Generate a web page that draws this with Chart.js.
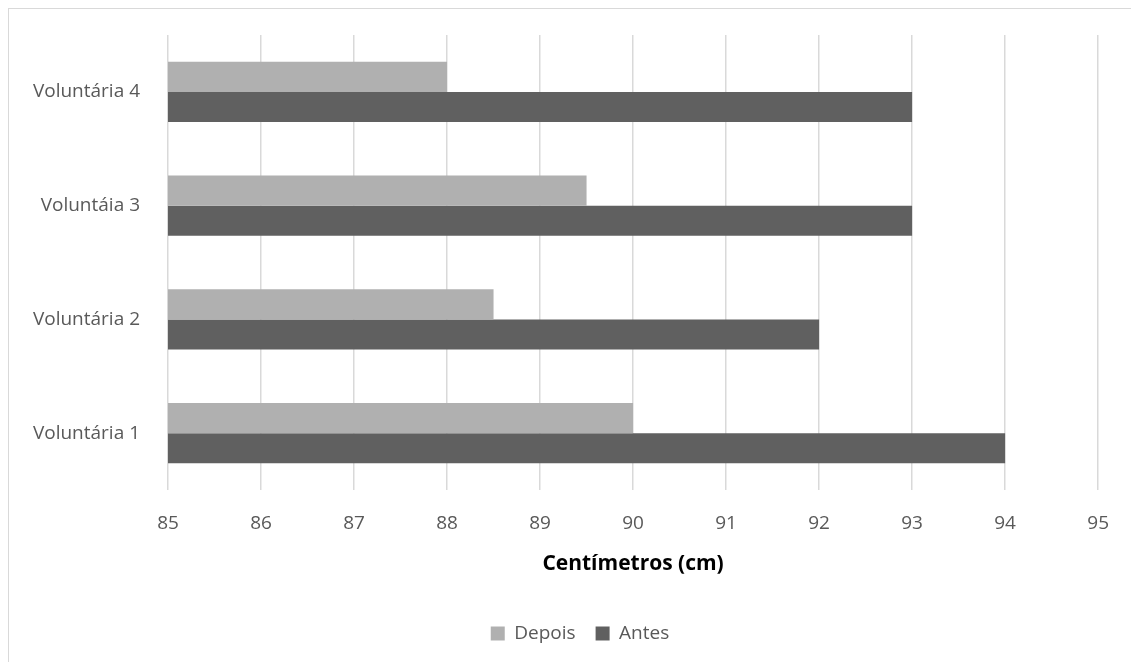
<!DOCTYPE html>
<html>
<head>
<meta charset="utf-8">
<script src="https://cdn.jsdelivr.net/npm/chart.js@4/dist/chart.umd.min.js"></script>
<style>
  html, body { margin: 0; padding: 0; background: #fff; }
  #wrap { position: relative; width: 1131px; height: 662px; overflow: hidden; }
  #frame { position: absolute; left: 8px; top: 8px; width: 1140px; height: 670px; border: 1px solid #d9d9d9; }
  #bar { position: absolute; left: 0; top: 0; }
</style>
</head>
<body>
<div id="wrap">
  <div id="frame"></div>
  <canvas id="bar" width="1131" height="662"></canvas>
</div>
<script>
const categories = ["Voluntária 4", "Voluntáia 3", "Voluntária 2", "Voluntária 1"];
const depois = [88, 89.5, 88.5, 90];
const antes = [93, 93, 92, 94];
const xTicks = [85, 86, 87, 88, 89, 90, 91, 92, 93, 94, 95];

chart();

function chart() {
  const ctx = document.getElementById("bar").getContext("2d");
  const font = "'Open Sans', 'Liberation Sans', sans-serif";
  // nudge the legend a bit to the right, like the original
  const shiftLegend = {
    id: "shiftLegend",
    afterLayout: c => { c.legend.left += 24; c.legend.right += 24; }
  };
  const myChart = new Chart(ctx, {
    type: "bar",
    data: {
      labels: categories,
      datasets: [
        {
          label: "Depois",
          data: depois,
          backgroundColor: "#b0b0b0",
          categoryPercentage: 0.53,
          barPercentage: 1
        },
        {
          label: "Antes",
          data: antes,
          backgroundColor: "#606060",
          categoryPercentage: 0.53,
          barPercentage: 1
        }
      ]
    },
    plugins: [shiftLegend],
    options: {
      indexAxis: "y",
      responsive: false,
      animation: false,
      layout: { padding: { left: 10, right: 29, top: 35, bottom: 9 } },
      plugins: {
        tooltip: { enabled: false },
        legend: {
          position: "bottom",
          labels: {
            color: "#595959",
            font: { family: font, size: 19 },
            boxWidth: 14,
            boxHeight: 14,
            padding: 20
          }
        }
      },
      scales: {
        x: {
          min: 85,
          max: 95,
          afterBuildTicks: s => { s.ticks = xTicks.map(v => ({ value: v })); },
          afterFit: s => { s.height = 114; },
          grid: { color: "#d9d9d9", lineWidth: 1.5, drawTicks: false },
          border: { display: false },
          ticks: { color: "#595959", font: { family: font, size: 19 }, padding: 22 },
          title: {
            display: true,
            text: "Centímetros (cm)",
            color: "#000",
            font: { family: font, size: 21, weight: "bold" },
            padding: { top: 8, bottom: 27 }
          }
        },
        y: {
          grid: { display: false },
          border: { display: false },
          ticks: { color: "#595959", font: { family: font, size: 19 }, padding: 20 },
          afterFit: s => { s.width = 158; }
        }
      }
    }
  });
}
</script>
</body>
</html>
